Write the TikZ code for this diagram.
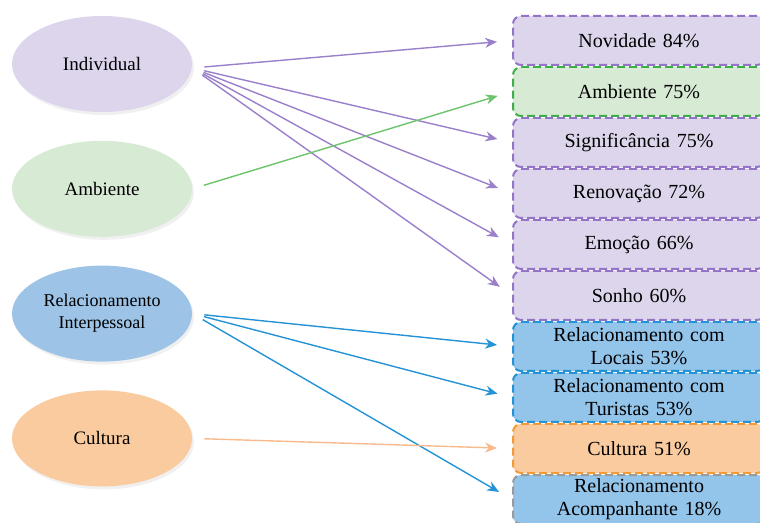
\documentclass[tikz,border=0pt]{standalone}
\usepackage{fontspec}
\setmainfont{Liberation Serif}
\usetikzlibrary{positioning,shapes.geometric,shadows,arrows.meta}

\definecolor{roxoF}{HTML}{DDD5EB}
\definecolor{roxoL}{HTML}{9474C6}
\definecolor{roxoA}{HTML}{9A7FCB}
\definecolor{verdeF}{HTML}{D6EAD4}
\definecolor{verdeL}{HTML}{3DAE49}
\definecolor{verdeA}{HTML}{6CC46C}
\definecolor{azulF}{HTML}{93C4EA}
\definecolor{azulE}{HTML}{9DC3E6}
\definecolor{azulL}{HTML}{2493D6}
\definecolor{laranjaF}{HTML}{FACB9F}
\definecolor{laranjaL}{HTML}{F39A3A}
\definecolor{laranjaA}{HTML}{F8BA8C}
\definecolor{cinzaL}{HTML}{9A9A9A}

\begin{document}
\begin{tikzpicture}[x=0.5pt,y=-0.5pt,>={Stealth[length=6pt,width=5pt]},
		elipse/.style={ellipse,minimum width=90pt,minimum height=48pt,inner sep=0pt,align=center,
			font=\fontsize{9.5}{11}\selectfont,drop shadow={opacity=0.12,shadow xshift=1pt,shadow yshift=-1.5pt}},
		caixa/.style={rectangle,rounded corners=4pt,line width=1pt,dash pattern=on 4pt off 2pt,
			text width=125pt,inner sep=0.5pt,minimum height=24.5pt,align=center,
			font=\fontsize{10}{11.5}\selectfont},
		seta/.style={->,line width=0.7pt,shorten <=6pt,shorten >=7.5pt}]
		\useasboundingbox (0,0) rectangle (760,523);
		% categorias
		\node[elipse,fill=roxoF] (e1) at (102,64) {Individual};
		\node[elipse,fill=verdeF] (e2) [below=14pt of e1] {Ambiente};
		\node[elipse,fill=azulE] (e3) [below=14pt of e2] {\fontsize{9}{11}\selectfont Relacionamento\\ \fontsize{9}{11}\selectfont Interpessoal};
		\node[elipse,fill=laranjaF] (e4) [below=14pt of e3] {Cultura};
		% fatores
		\node[caixa,fill=roxoF,draw=roxoL,anchor=north west] (s1) at (512,15) {Novidade 84\%};
		\node[caixa,fill=verdeF,draw=verdeL] (s2) [below=0pt of s1] {Ambiente 75\%};
		\node[caixa,fill=roxoF,draw=roxoL] (s3) [below=0pt of s2] {Significância 75\%};
		\node[caixa,fill=roxoF,draw=roxoL] (s4) [below=0pt of s3] {Renovação 72\%};
		\node[caixa,fill=roxoF,draw=roxoL] (s5) [below=0pt of s4] {Emoção 66\%};
		\node[caixa,fill=roxoF,draw=roxoL] (s6) [below=0pt of s5] {Sonho 60\%};
		\node[caixa,fill=azulF,draw=azulL] (s7) [below=0pt of s6] {Relacionamento com\\Locais 53\%};
		\node[caixa,fill=azulF,draw=azulL] (s8) [below=0pt of s7] {Relacionamento com\\Turistas 53\%};
		\node[caixa,fill=laranjaF,draw=laranjaL] (s9) [below=0pt of s8] {Cultura 51\%};
		\node[caixa,fill=azulF,draw=cinzaL] (s10) [below=0pt of s9] {Relacionamento\\Acompanhante 18\%};
		\path[seta,color=roxoA]
		([yshift=-2pt]e1.east) edge (s1.west)
		([yshift=-2pt]e1.east) edge (s3.west)
		([yshift=-2pt]e1.east) edge (s4.west)
		([yshift=-2pt]e1.east) edge (s5.west)
		([yshift=-2pt]e1.east) edge (s6.west);
		\path[seta,color=verdeA]
		(e2.east) edge (s2.west);
		\path[seta,color=azulL]
		(e3.east) edge (s7.west)
		(e3.east) edge (s8.west)
		(e3.east) edge (s10.west);
		\path[seta,color=laranjaA]
		(e4.east) edge (s9.west);
\end{tikzpicture}
\end{document}
